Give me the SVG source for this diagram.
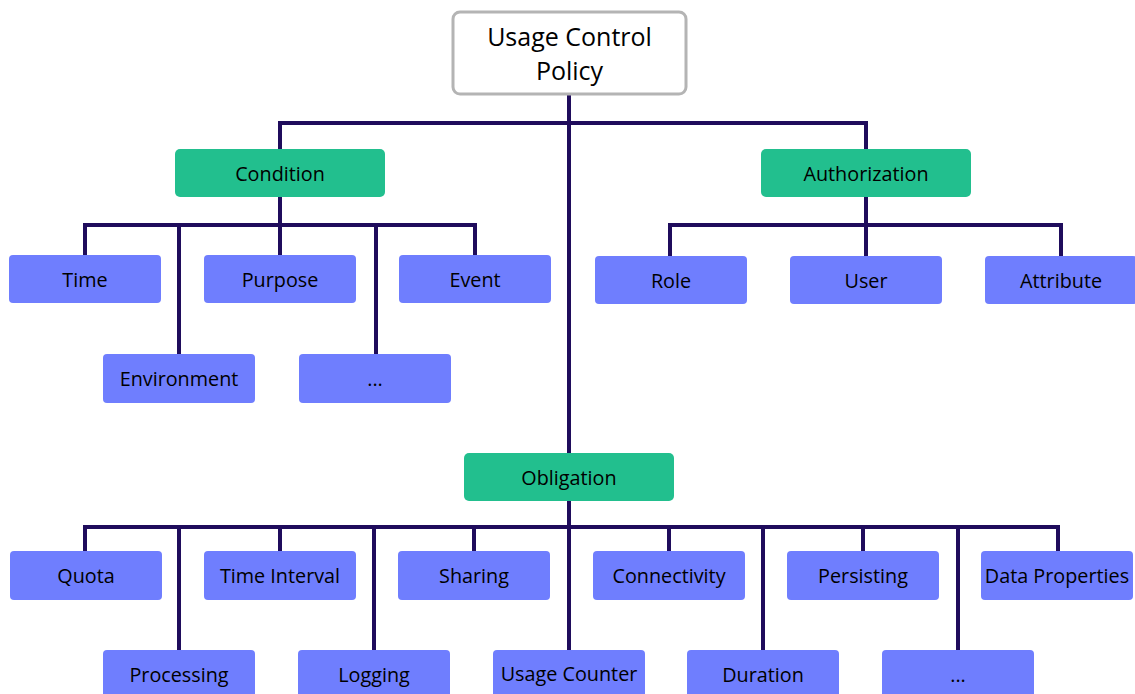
<svg xmlns="http://www.w3.org/2000/svg" width="1135" height="694" viewBox="0 0 1135 694">
  <style>
    .wire { fill: none; stroke: #1f0c5c; stroke-width: 4; stroke-linecap: square; stroke-linejoin: miter; }
    .root { fill: #ffffff; stroke: #b4b4b4; stroke-width: 3; }
    .cat { fill: #22bf8e; }
    .leaf { fill: #6f7efe; }
    text { font-family: "Open Sans", "Liberation Sans", sans-serif; font-size: 19.8px; fill: #000000; text-anchor: middle; dominant-baseline: central; }
    .title { font-size: 25px; }
  </style>

  <!-- connectors -->
  <g id="connectors">
    <path class="wire" d="M569,95 V453"/>
    <path class="wire" d="M280,149 V123 H866 V149"/>
    <path class="wire" d="M280,197 V255"/>
    <path class="wire" d="M85,255 V225 H475 V255"/>
    <path class="wire" d="M179,225 V354"/>
    <path class="wire" d="M376,225 V354"/>
    <path class="wire" d="M866,197 V255"/>
    <path class="wire" d="M670,255 V225 H1061 V255"/>
    <path class="wire" d="M569,501 V650"/>
    <path class="wire" d="M85,551 V527 H1058 V551"/>
    <path class="wire" d="M280,527 V551"/>
    <path class="wire" d="M474,527 V551"/>
    <path class="wire" d="M669,527 V551"/>
    <path class="wire" d="M863,527 V551"/>
    <path class="wire" d="M179,527 V650"/>
    <path class="wire" d="M374,527 V650"/>
    <path class="wire" d="M763,527 V650"/>
    <path class="wire" d="M958,527 V650"/>
  </g>

  <!-- root -->
  <g id="usage-control-policy">
    <rect class="root" x="453" y="12" width="233" height="82" rx="7"/>
    <text class="title" x="569.5" y="36">Usage Control</text>
    <text class="title" x="569.5" y="70">Policy</text>
  </g>

  <!-- categories -->
  <g id="condition"><rect class="cat" x="175" y="149" width="210" height="48" rx="5"/><text x="280" y="173">Condition</text></g>
  <g id="authorization"><rect class="cat" x="761" y="149" width="210" height="48" rx="5"/><text x="866" y="173">Authorization</text></g>
  <g id="obligation"><rect class="cat" x="464" y="453" width="210" height="48" rx="5"/><text x="569" y="477">Obligation</text></g>

  <!-- condition leaves -->
  <g id="time"><rect class="leaf" x="9" y="255" width="152" height="48" rx="4"/><text x="85" y="279">Time</text></g>
  <g id="purpose"><rect class="leaf" x="204" y="255" width="152" height="48" rx="4"/><text x="280" y="279">Purpose</text></g>
  <g id="event"><rect class="leaf" x="399" y="255" width="152" height="48" rx="4"/><text x="475" y="279">Event</text></g>
  <g id="environment"><rect class="leaf" x="103" y="354" width="152" height="49" rx="4"/><text x="179" y="378">Environment</text></g>
  <g id="condition-more"><rect class="leaf" x="299" y="354" width="152" height="49" rx="4"/><text x="375" y="378">...</text></g>

  <!-- authorization leaves -->
  <g id="role"><rect class="leaf" x="595" y="256" width="152" height="48" rx="4"/><text x="671" y="280">Role</text></g>
  <g id="user"><rect class="leaf" x="790" y="256" width="152" height="48" rx="4"/><text x="866" y="280">User</text></g>
  <g id="attribute"><rect class="leaf" x="985" y="256" width="152" height="48" rx="4"/><text x="1061" y="280">Attribute</text></g>

  <!-- obligation leaves, upper row -->
  <g id="quota"><rect class="leaf" x="10" y="551" width="152" height="49" rx="4"/><text x="86" y="575">Quota</text></g>
  <g id="time-interval"><rect class="leaf" x="204" y="551" width="152" height="49" rx="4"/><text x="280" y="575">Time Interval</text></g>
  <g id="sharing"><rect class="leaf" x="398" y="551" width="152" height="49" rx="4"/><text x="474" y="575">Sharing</text></g>
  <g id="connectivity"><rect class="leaf" x="593" y="551" width="152" height="49" rx="4"/><text x="669" y="575">Connectivity</text></g>
  <g id="persisting"><rect class="leaf" x="787" y="551" width="152" height="49" rx="4"/><text x="863" y="575">Persisting</text></g>
  <g id="data-properties"><rect class="leaf" x="981" y="551" width="152" height="49" rx="4"/><text x="1057" y="575">Data Properties</text></g>

  <!-- obligation leaves, lower row -->
  <g id="processing"><rect class="leaf" x="103" y="650" width="152" height="52" rx="4"/><text x="179" y="674">Processing</text></g>
  <g id="logging"><rect class="leaf" x="298" y="650" width="152" height="52" rx="4"/><text x="374" y="674">Logging</text></g>
  <g id="usage-counter"><rect class="leaf" x="493" y="650" width="152" height="52" rx="4"/><text x="569" y="673">Usage Counter</text></g>
  <g id="duration"><rect class="leaf" x="687" y="650" width="152" height="52" rx="4"/><text x="763" y="674">Duration</text></g>
  <g id="obligation-more"><rect class="leaf" x="882" y="650" width="152" height="52" rx="4"/><text x="958" y="674">...</text></g>
</svg>
